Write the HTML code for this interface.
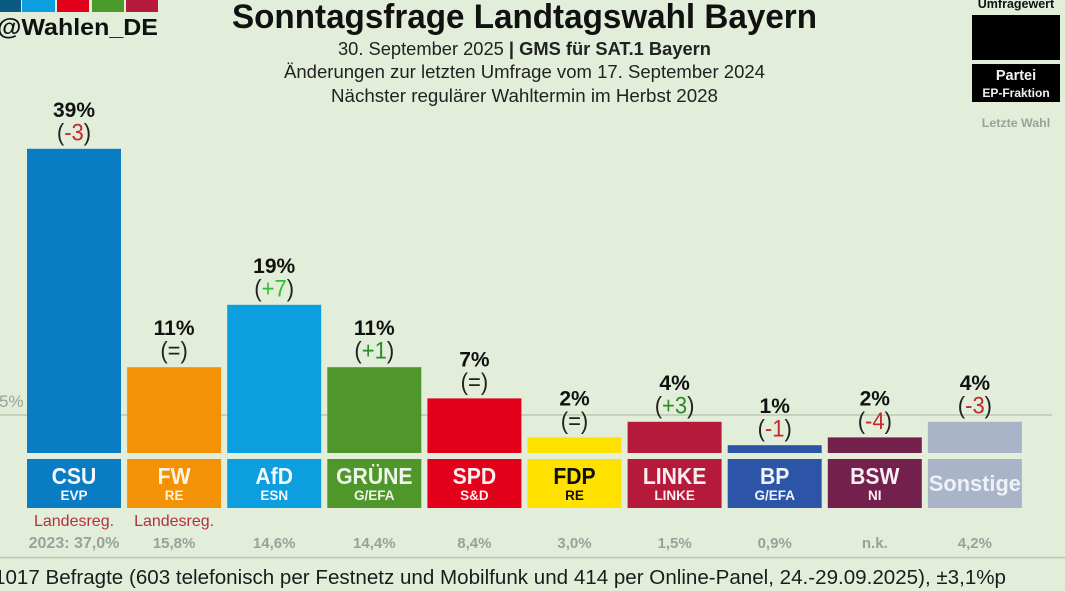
<!DOCTYPE html>
<html lang="de">
<head>
<meta charset="utf-8">
<title>Sonntagsfrage Landtagswahl Bayern</title>
<style>
html,body{margin:0;padding:0;background:#e2eed9;width:1065px;height:591px;overflow:hidden}
svg{display:block;font-family:"Liberation Sans",sans-serif;filter:blur(0.35px)}
</style>
</head>
<body>
<svg id="chart" width="1065" height="591" viewBox="0 0 1065 591" xmlns="http://www.w3.org/2000/svg">
  <rect width="1065" height="591" fill="#e2eed9"/>

  <g>
    <rect x="0" y="0" width="21" height="12" fill="#0b5a80"/>
    <rect x="22" y="0" width="33" height="12" fill="#0d9ee0"/>
    <rect x="57" y="0" width="32" height="12" fill="#e3001b"/>
    <rect x="92" y="0" width="32" height="12" fill="#4a9a2c"/>
    <rect x="126" y="0" width="32" height="12" fill="#b51a3a"/>
  </g>
  <text x="-3" y="35" font-size="23" font-weight="700" fill="#111" textLength="161" lengthAdjust="spacingAndGlyphs">@Wahlen_DE</text>

  <text x="232" y="28" font-size="34" font-weight="700" fill="#111" textLength="585" lengthAdjust="spacingAndGlyphs">Sonntagsfrage Landtagswahl Bayern</text>
  <text x="338" y="55" font-size="18.5" fill="#222" textLength="373" lengthAdjust="spacingAndGlyphs">30. September 2025 <tspan font-weight="700">| GMS für SAT.1 Bayern</tspan></text>
  <text x="284" y="78" font-size="18.5" fill="#222" textLength="481" lengthAdjust="spacingAndGlyphs">Änderungen zur letzten Umfrage vom 17. September 2024</text>
  <text x="331" y="102" font-size="18.5" fill="#222" textLength="387" lengthAdjust="spacingAndGlyphs">Nächster regulärer Wahltermin im Herbst 2028</text>

  <g>
    <text x="1016" y="8" font-size="12.5" font-weight="700" text-anchor="middle" fill="#111">Umfragewert</text>
    <rect x="972" y="15" width="88" height="45" fill="#000"/>
    <rect x="972" y="64" width="88" height="38" fill="#000"/>
    <text x="1016" y="80" font-size="14.5" font-weight="700" text-anchor="middle" fill="#f2f2f2">Partei</text>
    <text x="1016" y="97" font-size="12" font-weight="700" text-anchor="middle" fill="#f2f2f2">EP-Fraktion</text>
    <text x="1016" y="127" font-size="12.4" font-weight="700" text-anchor="middle" fill="#97a39a">Letzte Wahl</text>
  </g>

  <line x1="0" x2="1052" y1="415" y2="415" stroke="#b9c7b1" stroke-width="1.5"/>
  <text x="-1" y="407" font-size="17" fill="#97a39a">5%</text>

  <g id="marks"></g>

  <line x1="0" x2="1065" y1="557.5" y2="557.5" stroke="#bcc6b6" stroke-width="1.5"/>
  <text x="-6" y="584" font-size="20" fill="#1c1c1c" textLength="1012" lengthAdjust="spacingAndGlyphs">1017 Befragte (603 telefonisch per Festnetz und Mobilfunk und 414 per Online-Panel, 24.-29.09.2025), ±3,1%p</text>
</svg>
<script>
const parties = ["CSU","FW","AfD","GRÜNE","SPD","FDP","LINKE","BP","BSW","Sonstige"];
const groups = ["EVP","RE","ESN","G/EFA","S&D","RE","LINKE","G/EFA","NI",""];
const pollValues = [39,11,19,11,7,2,4,1,2,4];
const changes = ["-3","=","+7","+1","=","=","+3","-1","-4","-3"];
const lastElection = ["2023: 37,0%","15,8%","14,6%","14,4%","8,4%","3,0%","1,5%","0,9%","n.k.","4,2%"];
const government = ["Landesreg.","Landesreg.","","","","","","","",""];
const barColors = ["#0a7cc4","#f39207","#0d9ee0","#4f962b","#e3001b","#ffe100","#b51a3a","#2c55a8","#74204c","#a9b4c8"];
const labelColors = ["#f4f8fb","#fdf3e2","#f4f8fb","#f0f5ec","#fdeef0","#111111","#fbeef0","#f0f3fa","#f8eef3","#eef1f6"];
const changeColors = {"-3":"#c4282d","-1":"#c4282d","-4":"#c4282d","+7":"#2fbf2f","+1":"#2a8a2a","+3":"#2a8a2a","=":"#222222"};

const NS = "http://www.w3.org/2000/svg";
const layer = document.getElementById("marks");
const BASELINE = 453, PX_PER_PERCENT = 7.8, LEFT = 27, STEP = 100.1, BAR_W = 94;
function xScale(i){ return LEFT + i * STEP; }
function yScale(v){ return BASELINE - v * PX_PER_PERCENT; }
function mk(tag, attrs, text){
  const el = document.createElementNS(NS, tag);
  for (const k in attrs) el.setAttribute(k, attrs[k]);
  if (text !== undefined) el.textContent = text;
  return el;
}
function slug(s){ return s.toLowerCase().replace("ü","ue"); }
/* Enlarge a text's height while fitting it to a width relative to its current measured width. */
function condense(el, newSize, widthFactor){
  const w = el.getComputedTextLength();
  el.setAttribute("font-size", newSize);
  el.setAttribute("textLength", (w * widthFactor).toFixed(1));
  el.setAttribute("lengthAdjust", "spacingAndGlyphs");
}

parties.forEach(function(p, i){
  const x = xScale(i), cx = x + BAR_W / 2, top = yScale(pollValues[i]), s = slug(p);

  const bar = mk("rect", {x:x, y:top, width:BAR_W, height:BASELINE - top, fill:barColors[i]});
  
  
  layer.appendChild(bar);

  const pct = mk("text", {x:cx, y:top - 32, "font-size":21, "font-weight":700, "text-anchor":"middle", fill:"#111"}, pollValues[i] + "%");
  
  
  layer.appendChild(pct);

  const chg = mk("text", {x:cx, y:top - 8.5, "font-size":22, "text-anchor":"middle", fill:"#222"});
  
  
  chg.appendChild(document.createTextNode("("));
  chg.appendChild(mk("tspan", {fill:changeColors[changes[i]]}, changes[i]));
  chg.appendChild(document.createTextNode(")"));
  layer.appendChild(chg);
  condense(chg, 24, 1);

  const box = mk("rect", {x:x, y:459, width:BAR_W, height:49, fill:barColors[i]});
  
  
  layer.appendChild(box);

  const isOther = groups[i] === "";
  const name = mk("text", {x:cx, y:isOther ? 491 : 484, "font-size":isOther ? 22 : 22.5, "font-weight":700, "text-anchor":"middle", fill:labelColors[i]}, p);
  if (isOther) { name.setAttribute("textLength", 92); name.setAttribute("lengthAdjust", "spacingAndGlyphs"); }
  
  
  layer.appendChild(name);
  if (!isOther) condense(name, 23, 0.94);

  if (!isOther) {
    const grp = mk("text", {x:cx, y:500, "font-size":13.5, "font-weight":700, "text-anchor":"middle", fill:labelColors[i]}, groups[i]);
    
    
    layer.appendChild(grp);
  }

  if (government[i]) {
    const gov = mk("text", {x:cx, y:526, "font-size":16, "text-anchor":"middle", fill:"#b5303a"}, government[i]);
    
    
    layer.appendChild(gov);
  }

  const last = mk("text", {x:cx, y:548, "font-size":lastElection[i].length > 6 ? 16 : 15, "font-weight":700, "text-anchor":"middle", fill:"#97a39a"}, lastElection[i]);
  
  
  layer.appendChild(last);
});
</script>
</body>
</html>
